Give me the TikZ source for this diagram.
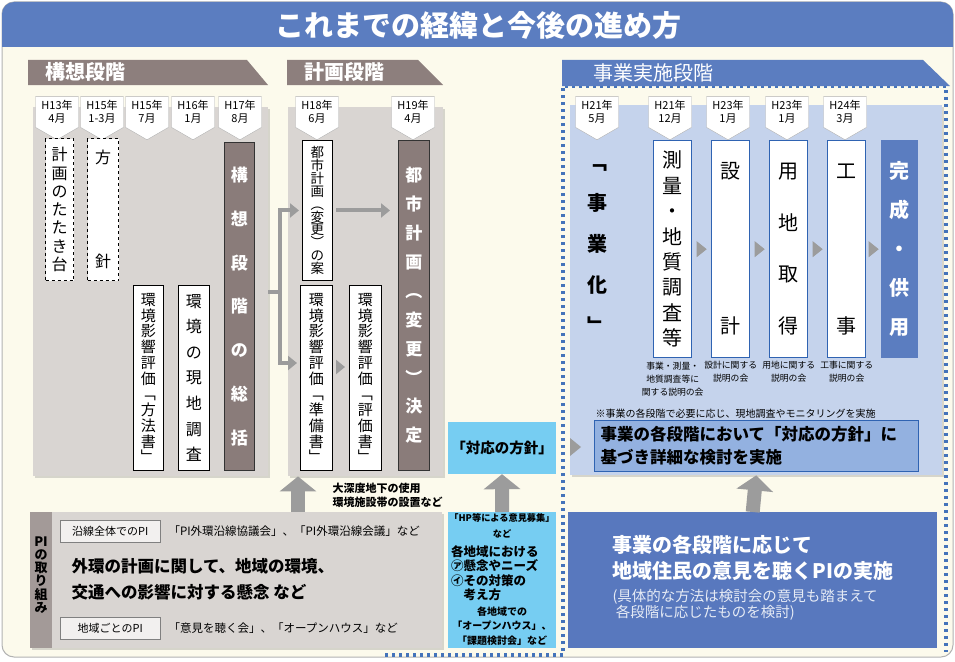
\documentclass[tikz,border=0pt]{standalone}
\usepackage{fontspec}
\setmainfont{Noto Sans CJK JP}
\usetikzlibrary{arrows.meta,positioning,shapes.symbols,shadows}

\definecolor{cream}{HTML}{FCFAEC}
\definecolor{titleblue}{HTML}{5B7DC0}
\definecolor{tabbrown}{HTML}{8D7F7D}
\definecolor{panelgray}{HTML}{D9D5D2}
\definecolor{darkbrown}{HTML}{8A7C7A}
\definecolor{lightpanel}{HTML}{C5D3EC}
\definecolor{skyblue}{HTML}{76CDF2}
\definecolor{midblue}{HTML}{93B1E0}
\definecolor{lineblue}{HTML}{2F63B2}
\definecolor{arrowgray}{HTML}{9C9C9C}
\definecolor{stripgray}{HTML}{A39A98}
\definecolor{piblue}{HTML}{5878BE}

% vertical writing: one character per line
\newcommand\tate[2][1.2]{\vbox{\baselineskip=#1em\lineskiplimit=-100pt\lineskip=0pt\tateloop#2\relax}}
\def\tateloop#1{\ifx\relax#1\else\hbox to 1em{\hss#1\hss}\expandafter\tateloop\fi}
\newcommand\fs[2]{\fontsize{#1}{#2}\selectfont}

\begin{document}
\begin{tikzpicture}[x=1pt,y=-1pt,
    panel/.style={fill=panelgray, inner sep=0pt, anchor=north west,
        drop shadow={shadow xshift=2pt,shadow yshift=-2pt,opacity=0.3}},
    tabtext/.style={text=white, anchor=west, font=\fs{20}{20}\bfseries},
    datetag/.style={signal, signal to=south, signal pointer angle=120,
        draw=gray!60, fill=white, minimum width=43pt, minimum height=40pt,
        inner sep=0.5pt, align=center, font=\fs{11}{13.5}},
    tatebox/.style={draw, fill=white, line width=0.9pt, minimum width=30pt,
        inner sep=0pt, anchor=north west},
    dashbox/.style={tatebox, dashed, line width=1.1pt},
    sokatsubox/.style={tatebox, draw=black!80, fill=darkbrown, text=white,
        font=\fs{17}{17}\bfseries},
    stepbox/.style={tatebox, draw=lineblue, line width=1.4pt, minimum width=38pt,
        minimum height=217pt, font=\fs{20}{20}},
    capt/.style={font=\fs{8.8}{13}, align=center, inner sep=1pt},
    pibox/.style={draw=gray, fill=white!65!panelgray, minimum width=100pt,
        minimum height=22pt, anchor=west, font=\fs{11}{11}},
    conn/.style={draw=arrowgray, line width=4pt, -{Triangle[length=9pt,width=14pt]}},
    bigup/.style={draw=arrowgray, line width=14pt, -{Triangle[length=15pt,width=36pt]}},
    dotline/.style={draw=lineblue!90, line width=3.2pt, dash pattern=on 3pt off 4pt}]

    \useasboundingbox (0,0) rectangle (955,661);

    % Drawing the frame and the title
    \draw[gray!60, line width=1pt, fill=cream, rounded corners=12pt] (2,2) rectangle (953,657);
    \fill[titleblue, rounded corners=12pt] (2,47) -- (2,2) -- (953,2) -- (953,47);
    \node[text=white, font=\fs{29}{29}\bfseries] (title) at (478,25) {これまでの経緯と今後の進め方};

    % Drawing the dotted outline
    \draw[dotline] (385,655) -- (563,655) -- (563,86) -- (946,86) -- (946,652);

    % Drawing the phase tabs
    \fill[tabbrown] (28,60) -- (247,60) -- (268,85) -- (28,85) -- cycle;
    \node[tabtext] (kousoT) at (42,72) {構想段階};
    \fill[tabbrown] (287,60) -- (418,60) -- (443,85) -- (287,85) -- cycle;
    \node[tabtext] (keikakuT) at (301,72) {計画段階};
    \fill[titleblue] (562,60) -- (923,60) -- (950,86) -- (562,86) -- cycle;
    \node[tabtext, font=\fs{20}{20}] (jigyoT) at (590,73) {事業実施段階};

    % Drawing the panels
    \node[panel, minimum width=235pt, minimum height=369pt] (kousoP) at (33,107) {};
    \node[panel, minimum width=155pt, minimum height=369pt] (keikakuP) at (288,107) {};
    \node[panel, fill=lightpanel, minimum width=372pt, minimum height=370pt] (jigyoP) at (570,105) {};

    % Drawing the date tags
    \foreach \nm/\xx/\dt in {ta/57/{H13年\\4月}, tb/102/{H15年\\1-3月}, tc/147/{H15年\\7月},
        td/193/{H16年\\1月}, te/240/{H17年\\8月}, tf/317/{H18年\\6月}, tg/413/{H19年\\4月},
        th/597/{H21年\\5月}, ti/670/{H21年\\12月}, tj/728/{H23年\\1月}, tk/787/{H23年\\1月},
        tl/845/{H24年\\3月}}
        \node[datetag] (\nm) at (\xx,112) {\dt};

    % Drawing the boxes of 構想段階
    \node[dashbox, minimum width=28pt, minimum height=142pt, font=\fs{16}{16}] (tatakidai) at (45,138) {\tate[1.14]{計画のたたき台}};
    \node[dashbox, minimum width=31pt, minimum height=142pt, font=\fs{16}{16}] (houshin) at (87,138) {\tate[6.5]{方針}};
    \node[tatebox, minimum height=185pt, font=\fs{15}{15}] (houhou) at (133,285) {\tate[1.05]{環境影響評価﹁方法書﹂}};
    \node[tatebox, minimum width=31pt, minimum height=185pt, font=\fs{16}{16}] (genchi) at (178,285) {\tate[1.6]{環境の現地調査}};
    \node[sokatsubox, minimum height=328pt] (sokatsu) at (224,142) {\tate[2.58]{構想段階の総括}};

    % Drawing the boxes of 計画段階
    \node[tatebox, minimum height=140pt, font=\fs{13.5}{13.5}] (toshian) at (302,140) {\tate[0.96]{都市計画︵変更︶の案}};
    \node[sokatsubox, minimum width=31pt, minimum height=330pt] (kettei) at (398,140) {\tate[1.7]{都市計画︵変更︶決定}};
    \node[tatebox, minimum width=32pt, minimum height=185pt, font=\fs{15}{15}] (junbi) at (300,285) {\tate[1.05]{環境影響評価﹁準備書﹂}};
    \node[tatebox, minimum width=32pt, minimum height=185pt, font=\fs{15}{15}] (hyouka) at (349,285) {\tate[1.05]{環境影響評価﹁評価書﹂}};
    \node[anchor=west, align=left, font=\fs{11}{14}\bfseries] (daishindo) at (329,495) {大深度地下の使用\\環境施設帯の設置など};

    % Drawing the connectors between the phases
    \coordinate (forkT) at (280,210);
    \coordinate (forkM) at (280,292);
    \coordinate (forkB) at (280,363);
    \coordinate (midJ) at (0,367);
    \draw[conn, -] (kousoP.east |- forkM) -- (forkM);
    \draw[conn, shorten >=3pt] (forkB) |- (toshian.west);
    \draw[conn, shorten >=3pt] (forkT) |- (junbi.west |- forkB);
    \draw[conn, shorten <=3pt, shorten >=8pt] (toshian.east) -- (kettei.west |- toshian);
    \draw[conn, shorten <=3pt, shorten >=4pt] (junbi.east |- midJ) -- (hyouka.west |- midJ);

    % Drawing the steps of 事業実施段階
    \node[font=\fs{20}{20}\bfseries] (jigyouka) at (597,249) {\tate[2.04]{﹁事業化﹂}};
    \node[stepbox] (sokuryo) at (653,140) {\tate[1.27]{測量・地質調査等}};
    \node[stepbox] (sekkei) at (711,140) {\tate[7.75]{設計}};
    \node[stepbox] (youchi) at (769,140) {\tate[2.58]{用地取得}};
    \node[stepbox] (kouji) at (827,140) {\tate[7.75]{工事}};
    \node[stepbox, minimum width=36pt, draw=titleblue, fill=titleblue, text=white, font=\fs{20}{20}\bfseries] (kansei) at (881,140) {\tate[1.95]{完成・供用}};
    \foreach \a/\b in {sokuryo/sekkei, sekkei/youchi, youchi/kouji, kouji/kansei} {
        \path (\a.east) -- (\b.west) coordinate[midway] (m);
        \fill[arrowgray] ([xshift=-5pt,yshift=8pt]m) -- ([xshift=5pt]m) -- ([xshift=-5pt,yshift=-8pt]m) -- cycle;
    }
    \node[capt, below=2pt of sokuryo] (capA) {事業・測量・\\地質調査等に\\関する説明の会};
    \node[capt, below=2pt of sekkei] (capB) {設計に関する\\説明の会};
    \node[capt, below=2pt of youchi] (capC) {用地に関する\\説明の会};
    \node[capt, below=2pt of kouji] (capD) {工事に関する\\説明の会};
    \node[anchor=west, font=\fs{10}{10}] (note) at (592,414) {※事業の各段階で必要に応じ、現地調査やモニタリングを実施};
    \node[draw=lineblue, fill=midblue, line width=1.5pt, text width=312pt, inner sep=6pt,
        minimum height=48pt, align=left, font=\fs{16.5}{23}\bfseries] (shousai) at (756.5,446)
        {事業の各段階において「対応の方針」に\\基づき詳細な検討を実施};

    % Drawing the 対応の方針 box
    \node[fill=skyblue, minimum width=108pt, minimum height=52pt, font=\fs{14.5}{14.5}\bfseries] (taiou) at (502,448) {「対応の方針」};
    \path (taiou.east) -- (shousai.west) coordinate[midway] (mT);
    \fill[arrowgray] ([xshift=-5pt,yshift=9pt]mT) -- ([xshift=6pt]mT) -- ([xshift=-5pt,yshift=-9pt]mT) -- cycle;

    % Drawing the PI panel
    \node[panel, minimum width=412pt, minimum height=136pt] (piP) at (30,512) {};
    \node[fill=stripgray, anchor=north west, minimum width=22pt, minimum height=136pt, inner sep=0pt] (piS) at (30,512) {};
    \node[font=\fs{13}{13}\bfseries] (piL) at (41,575) {\tate[1.02]{{PI}の取り組み}};
    \node[pibox] (zensen) at (60,531) {沿線全体でのPI};
    \node[anchor=west, font=\fs{11.5}{11.5}] (zensenT) at (165,531) {「PI外環沿線協議会」、「PI外環沿線会議」など};
    \node[anchor=west, align=left, font=\fs{16.5}{26}\bfseries] (kenen) at (68,579) {外環の計画に関して、地域の環境、\\交通への影響に対する懸念 など};
    \node[pibox] (chiiki) at (60,628) {地域ごとのPI};
    \node[anchor=west, font=\fs{11.5}{11.5}] (chiikiT) at (165,628) {「意見を聴く会」、「オープンハウス」など};

    % Drawing the opinion box
    \node[fill=skyblue, anchor=north west, minimum width=108pt, minimum height=136pt, inner sep=0pt] (hpBox) at (448,512) {};
    \node[align=center, font=\fs{9.2}{16}\bfseries] (hpTop) at (502,526) {「HP等による意見募集」\\など};
    \node[anchor=north west, align=left, inner sep=0pt, font=\fs{12.5}{14.5}\bfseries] (hpMid) at (451,545) {各地域における\\㋐懸念やニーズ\\㋑その対策の\\\hspace{1em}考え方};
    \node[align=center, font=\fs{10}{14.5}\bfseries] (hpBot) at (502,626) {各地域での\\「オープンハウス」、\\「課題検討会」など};

    % Drawing the PI box of 事業実施段階
    \node[fill=piblue, anchor=north west, minimum width=369pt, minimum height=136pt, inner sep=0pt] (piBlue) at (568,512) {};
    \node[anchor=west, align=left, text=white, font=\fs{20}{26}\bfseries] (piMain) at (609,558) {事業の各段階に応じて\\地域住民の意見を聴くPIの実施};
    \node[anchor=west, align=left, text=white!85!piblue, font=\fs{14.5}{16}] (piSub) at (609,605) {(具体的な方法は検討会の意見も踏まえて\\\ 各段階に応じたものを検討)};

    % Drawing the upward arrows
    \coordinate (upA) at (298,0);
    \draw[bigup] (piP.north -| upA) -- (keikakuP.south -| upA);
    \draw[bigup] (hpBox.north) -- (taiou.south);
    \draw[bigup] (piBlue.north) -- (jigyoP.south);

\end{tikzpicture}
\end{document}
